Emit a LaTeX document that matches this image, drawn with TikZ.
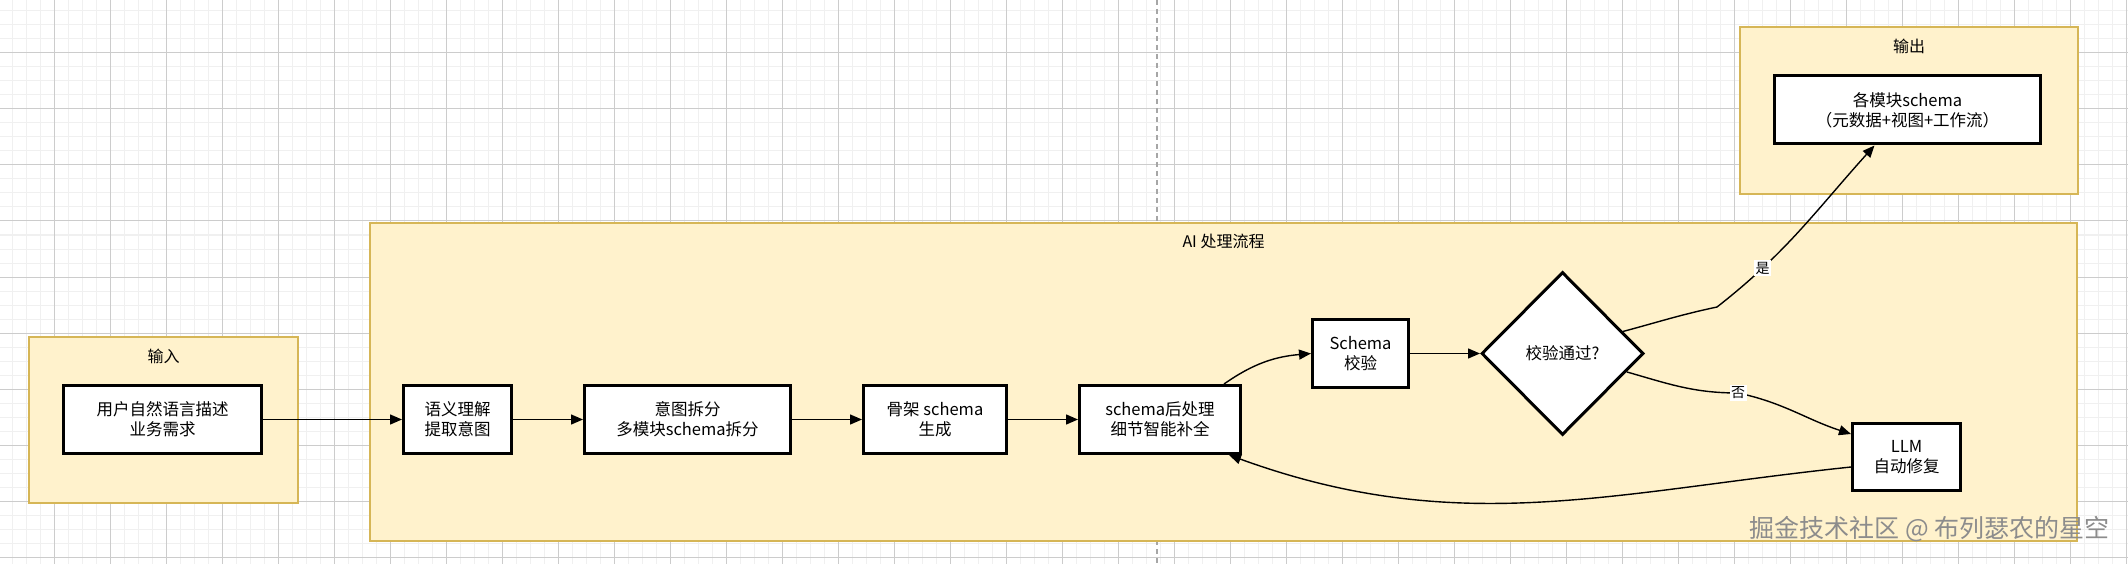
\documentclass[tikz,border=0pt]{standalone}
\usepackage{fontspec}
\setmainfont{Noto Sans CJK SC}
\usetikzlibrary{positioning,shapes.geometric,arrows.meta}
\definecolor{grpfill}{HTML}{FFF2CC}
\definecolor{grpline}{HTML}{D6B656}
\tikzset{
  grp/.style={draw=grpline,fill=grpfill,line width=2pt,inner sep=0pt,anchor=north west},
  grptitle/.style={inner sep=0pt,font=\fontsize{16}{20}\selectfont},
  proc/.style={draw,fill=white,line width=3pt,minimum height=68pt,inner sep=0pt,align=center,font=\fontsize{16.5}{20}\selectfont},
  decide/.style={diamond,draw,fill=white,line width=3pt,minimum width=162pt,minimum height=163pt,inner sep=0pt,font=\fontsize{16.5}{20}\selectfont},
  flow/.style={-{Triangle[length=12pt,width=10pt]},line width=1.4pt},
  edgelbl/.style={fill=white,inner sep=1.5pt,font=\fontsize{14}{16}\selectfont},
  minorgrid/.style={draw=black!6,line width=1pt},
  majorgrid/.style={draw=black!20,line width=1pt},
  pageline/.style={draw=black!35,line width=1.5pt,dash pattern=on 5pt off 4pt},
  watermark/.style={inner sep=0pt,text=black!45,font=\fontsize{25}{28}\selectfont}
}
\begin{document}
\begin{tikzpicture}[x=1pt,y=1pt]
  \useasboundingbox (0,0) rectangle (2128,-564);
  \fill[white] (0,0) rectangle (2128,-564);
  \draw[minorgrid,shift={(12,-11)},step=14pt] (-12,11) grid (2116,-553);
  \draw[majorgrid,shift={(54,-53)},step=56pt] (-54,53) grid (2074,-511);
  \draw[pageline] (1157,0) -- (1157,-564);

  \node[grp,minimum width=269pt,minimum height=166pt] (ingrp) at (28,-336) {};
  \node[grp,minimum width=1707pt,minimum height=318pt] (aigrp) at (369,-222) {};
  \node[grp,minimum width=338pt,minimum height=167pt] (outgrp) at (1739,-26) {};
  \node[grptitle] (intitle) at ([yshift=-20pt]ingrp.north) {输入};
  \node[grptitle] (aititle) at ([yshift=-19pt]aigrp.north) {AI 处理流程};
  \node[grptitle] (outtitle) at ([yshift=-20pt]outgrp.north) {输出};

  \node[proc,minimum width=198pt] (req) at (162.5,-419.5) {用户自然语言描述\\业务需求};
  \node[proc,minimum width=108pt] (sem) at (457.5,-419.5) {语义理解\\提取意图};
  \node[proc,minimum width=206pt,right=70pt of sem] (split) {意图拆分\\多模块schema拆分};
  \node[proc,minimum width=143pt,right=70pt of split] (skel) {骨架 schema\\生成};
  \node[proc,minimum width=161pt,right=70pt of skel] (post) {schema后处理\\细节智能补全};
  \node[proc,minimum width=96pt] (chk) at (1360.5,-353.5) {Schema\\校验};
  \node[decide,right=70pt of chk] (dec) {校验通过?};
  \node[proc,minimum width=108pt,minimum height=67pt] (llm) at (1906.5,-457) {LLM\\自动修复};
  \node[proc,minimum width=266pt] (outbox) at (1907.5,-110) {各模块schema\\（元数据+视图+工作流）};

  \coordinate (yesbend) at (1717,-307);
  \coordinate (nobend) at (1738,-393);

  \draw[flow] (req) -- (sem);
  \draw[flow] (sem) -- (split);
  \draw[flow] (split) -- (skel);
  \draw[flow] (skel) -- (post);
  \draw[flow] ([xshift=-18pt]post.north east) to[out=35,in=185] (chk.west);
  \draw[flow] (chk) -- (dec);
  \draw[flow] (dec.20) to[out=15,in=192] (yesbend) to[out=38,in=228] node[edgelbl,pos=0.25] {是} ([xshift=-33pt]outbox.south);
  \draw[flow] (dec.-16) to[out=-16,in=180] (nobend) node[edgelbl] {否} to[out=-12,in=162] ([yshift=23pt]llm.west);
  \draw[flow] ([yshift=-10pt]llm.west) to[out=186,in=-20] ([xshift=-13pt]post.south east);

  \node[watermark,anchor=east] (wm) at (2110,-529) {掘金技术社区 @ 布列瑟农的星空};
\end{tikzpicture}
\end{document}
